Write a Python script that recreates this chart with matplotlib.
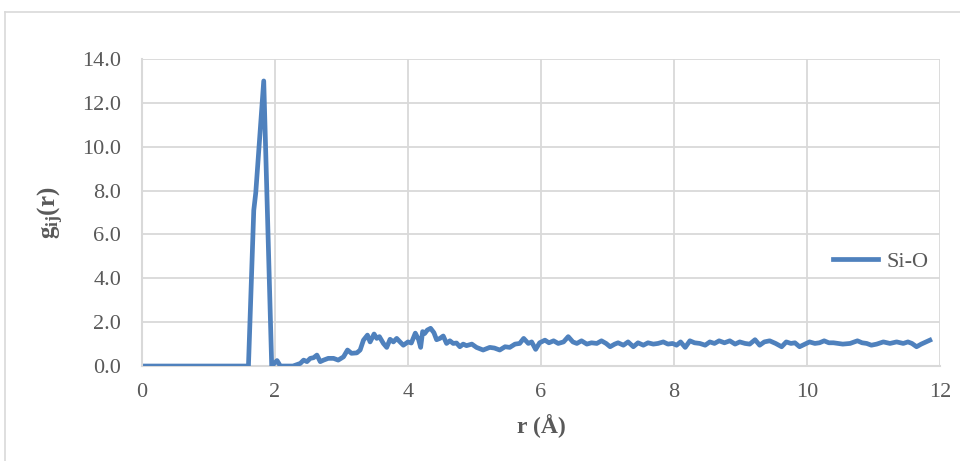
import matplotlib
matplotlib.use('Agg')
import matplotlib.pyplot as plt
from matplotlib.lines import Line2D
import matplotlib.ticker as ticker

# Si-O partial radial distribution function
r_values = [
    0.05, 1.60, 1.68, 1.71, 1.83, 1.95, 2.03, 2.08, 2.27, 2.38,
    2.43, 2.48, 2.53, 2.58, 2.63, 2.68, 2.73, 2.80, 2.88, 2.95,
    3.03, 3.09, 3.15, 3.23, 3.28, 3.33, 3.39, 3.43, 3.49, 3.53,
    3.57, 3.63, 3.68, 3.73, 3.78, 3.83, 3.88, 3.93, 4.00, 4.05,
    4.11, 4.16, 4.19, 4.22, 4.25, 4.29, 4.34, 4.39, 4.43, 4.48,
    4.53, 4.58, 4.63, 4.68, 4.73, 4.78, 4.83, 4.88, 4.96, 5.03,
    5.13, 5.23, 5.30, 5.38, 5.46, 5.53, 5.61, 5.68, 5.74, 5.81,
    5.86, 5.92, 5.98, 6.06, 6.12, 6.19, 6.26, 6.34, 6.41, 6.48,
    6.54, 6.61, 6.69, 6.76, 6.84, 6.91, 6.98, 7.04, 7.11, 7.16,
    7.24, 7.31, 7.39, 7.46, 7.54, 7.61, 7.69, 7.76, 7.84, 7.91,
    7.98, 8.04, 8.10, 8.17, 8.24, 8.31, 8.39, 8.47, 8.54, 8.61,
    8.68, 8.76, 8.84, 8.92, 8.99, 9.07, 9.14, 9.22, 9.29, 9.36,
    9.44, 9.53, 9.62, 9.69, 9.76, 9.82, 9.89, 9.97, 10.04, 10.12,
    10.19, 10.26, 10.33, 10.40, 10.47, 10.54, 10.65, 10.76, 10.83, 10.90,
    10.97, 11.05, 11.15, 11.25, 11.35, 11.45, 11.52, 11.58, 11.65, 11.72,
    11.85,
]
g_values = [
    0.00, 0.00, 7.10, 7.90, 13.00, 0.00, 0.25, 0.00, 0.00, 0.12,
    0.27, 0.20, 0.35, 0.38, 0.50, 0.20, 0.27, 0.35, 0.35, 0.27,
    0.42, 0.73, 0.58, 0.60, 0.73, 1.18, 1.41, 1.10, 1.46, 1.26,
    1.34, 1.03, 0.85, 1.22, 1.10, 1.26, 1.10, 0.95, 1.10, 1.05,
    1.50, 1.20, 0.85, 1.57, 1.48, 1.64, 1.72, 1.52, 1.20, 1.26,
    1.37, 1.03, 1.15, 1.03, 1.05, 0.88, 1.00, 0.93, 1.00, 0.85,
    0.73, 0.85, 0.82, 0.73, 0.88, 0.85, 1.00, 1.03, 1.26, 1.03,
    1.10, 0.76, 1.06, 1.18, 1.06, 1.15, 1.03, 1.10, 1.34, 1.10,
    1.03, 1.15, 1.00, 1.06, 1.03, 1.15, 1.03, 0.88, 1.00, 1.06,
    0.95, 1.10, 0.88, 1.06, 0.95, 1.06, 1.00, 1.03, 1.10, 1.00,
    1.03, 0.95, 1.10, 0.85, 1.15, 1.06, 1.03, 0.95, 1.10, 1.03,
    1.15, 1.06, 1.15, 1.00, 1.10, 1.03, 1.00, 1.20, 0.95, 1.10,
    1.15, 1.03, 0.88, 1.10, 1.03, 1.06, 0.88, 1.00, 1.10, 1.03,
    1.06, 1.15, 1.06, 1.06, 1.03, 1.00, 1.03, 1.15, 1.06, 1.03,
    0.95, 1.00, 1.10, 1.03, 1.10, 1.03, 1.10, 1.03, 0.88, 1.00,
    1.18,
]
series_label = 'Si-O'
x_ticks = [0, 2, 4, 6, 8, 10, 12]
y_ticks = [0, 2, 4, 6, 8, 10, 12, 14]

LINE_COLOR = '#4f81bd'
GRID_COLOR = '#d9d9d9'
TEXT_COLOR = '#595959'

plt.rcParams['font.family'] = ['Liberation Serif', 'DejaVu Serif']
plt.rcParams['mathtext.fontset'] = 'custom'
plt.rcParams['mathtext.rm'] = 'Liberation Serif'
plt.rcParams['mathtext.bf'] = 'Liberation Serif:bold'

fig = plt.figure(figsize=(9.6, 4.61), dpi=100)
ax = fig.add_axes([0.148, 0.206, 0.831, 0.666])

# outer chart-area border (only top and left edges fall inside the image)
fig.add_artist(Line2D([5 / 960, 1.0], [1 - 12 / 461] * 2, transform=fig.transFigure,
                      color=GRID_COLOR, lw=1.2))
fig.add_artist(Line2D([5 / 960] * 2, [0.0, 1 - 12 / 461], transform=fig.transFigure,
                      color=GRID_COLOR, lw=1.2))

ax.plot(r_values, g_values, color=LINE_COLOR, lw=3.4, solid_joinstyle='round',
        label=series_label, zorder=3)

ax.set_xlim(0, 12)
ax.set_ylim(0, 14)
ax.set_xticks(x_ticks)
ax.set_yticks(y_ticks)
ax.yaxis.set_major_formatter(ticker.FormatStrFormatter('%.1f'))
ax.grid(True, color=GRID_COLOR, lw=1.3)
ax.set_axisbelow(True)
for side in ['top', 'right']:
    ax.spines[side].set_visible(False)
for side in ['left', 'bottom']:
    ax.spines[side].set_color(GRID_COLOR)
    ax.spines[side].set_linewidth(1.5)
ax.tick_params(length=0, labelsize=16, colors=TEXT_COLOR)
ax.tick_params(axis='x', pad=12)
ax.tick_params(axis='y', pad=15)

ax.set_xlabel('r (Å)', fontsize=17, fontweight='bold', color=TEXT_COLOR, labelpad=9)
ax.set_ylabel(r'$\mathbf{g_{ij}(r)}$', fontsize=18, color=TEXT_COLOR, labelpad=12)

leg = ax.legend(loc='center left', bbox_to_anchor=(0.847, 0.34), frameon=True,
                fontsize=16, handlelength=2.0, handletextpad=0.4, borderpad=0.2)
leg.get_frame().set_edgecolor('none')
leg.get_frame().set_facecolor('white')
leg.get_frame().set_alpha(1)
for t in leg.get_texts():
    t.set_color(TEXT_COLOR)

fig.savefig('out.png', dpi=100, facecolor='white')
